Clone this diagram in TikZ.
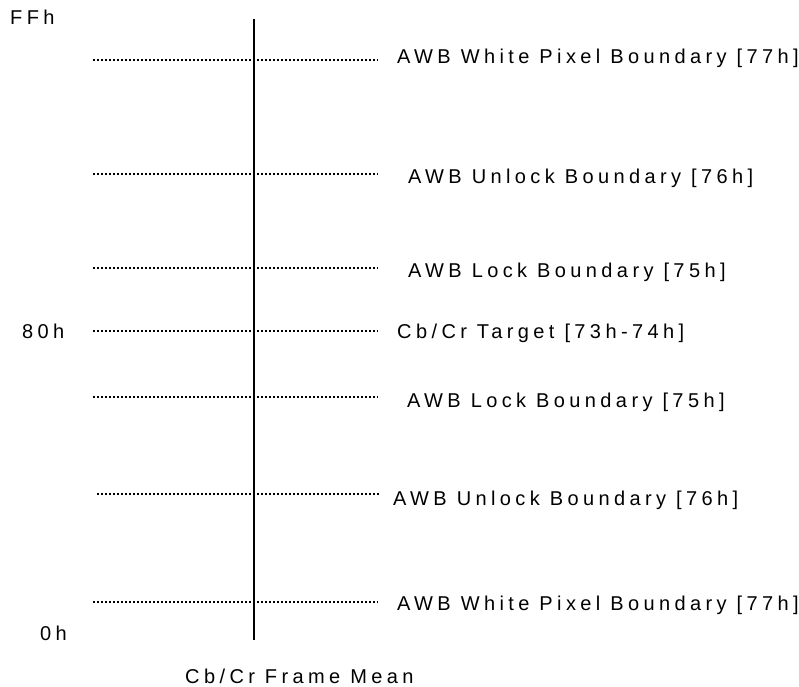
\documentclass[tikz,border=0pt]{standalone}
\usepackage{fontspec}
\setmainfont{Liberation Sans}[LetterSpace=22]
\begin{document}
\begin{tikzpicture}[x=1pt,y=-1pt,
  lbl/.style={anchor=base west,inner sep=0pt,font=\fontsize{20}{22}\selectfont},
  level/.style={line width=2.4pt,dash pattern=on 2.2pt off 1.8pt},
  axis/.style={line width=2pt}]
\useasboundingbox (0,0) rectangle (799,686);
\clip (0,0) rectangle (799,686);
% axis
\coordinate (top) at (254,19);
\coordinate (bot) at (254,640);
\draw[axis] (top) -- (bot);
% axis labels
\node[lbl] (ffh) at (10,24) {FFh};
\node[lbl] (h80) at (22,338) {80h};
\node[lbl] (h0) at (40,640) {0h};
\node[lbl] (mean) at (185,683) {Cb/Cr Frame Mean};
% levels
\coordinate (a1) at (93,60);  \coordinate (b1) at (378,60);
\coordinate (a2) at (93,174); \coordinate (b2) at (378,174);
\coordinate (a3) at (93,268); \coordinate (b3) at (378,268);
\coordinate (a4) at (93,331); \coordinate (b4) at (378,331);
\coordinate (a5) at (93,397); \coordinate (b5) at (378,397);
\coordinate (a6) at (97,494); \coordinate (b6) at (380,494);
\coordinate (a7) at (93,602); \coordinate (b7) at (378,602);
\foreach \i in {1,...,7} {\draw[level] (a\i) -- (b\i);}
\node[lbl] (t1) at (397,63)  {AWB White Pixel Boundary [77h]};
\node[lbl] (t2) at (408,183) {AWB Unlock Boundary [76h]};
\node[lbl] (t3) at (408,277) {AWB Lock Boundary [75h]};
\node[lbl] (t4) at (397,338) {Cb/Cr Target [73h-74h]};
\node[lbl] (t5) at (407,407) {AWB Lock Boundary [75h]};
\node[lbl] (t6) at (393,505) {AWB Unlock Boundary [76h]};
\node[lbl] (t7) at (397,610) {AWB White Pixel Boundary [77h]};
\end{tikzpicture}
\end{document}
